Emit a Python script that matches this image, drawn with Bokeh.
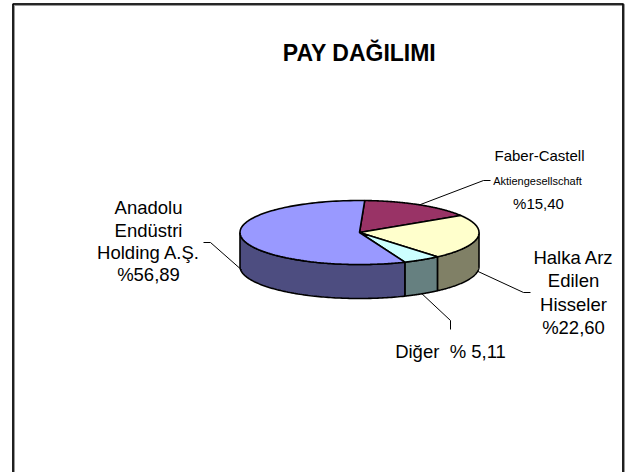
import numpy as np
from bokeh.plotting import figure
from bokeh.models import Range1d
from bokeh.embed import file_html
from bokeh.resources import INLINE
from bokeh.core.properties import value

# ---- data ----
title = "PAY DAĞILIMI"
categories = ["Faber-Castell Aktiengesellschaft", "Halka Arz Edilen Hisseler", "Diğer", "Anadolu Endüstri Holding A.Ş."]
shares = [15.40, 22.60, 5.11, 56.89]
share_labels = ["%15,40", "%22,60", "% 5,11", "%56,89"]
top_colors = ["#993366", "#FFFFCC", "#CCFFFF", "#9999FF"]
side_colors = ["#4D1A33", "#808066", "#668080", "#4D4D80"]

W, H = 629, 472
p = figure(width=W, height=H, x_range=Range1d(0, W), y_range=Range1d(H, 0),
           output_backend="svg", toolbar_location=None, min_border=0,
           x_axis_type=None, y_axis_type=None)
p.grid.visible = False
p.outline_line_color = None
p.background_fill_color = "white"
p.border_fill_color = "white"

FONT = value("Liberation Sans")

# frame
p.line([13, 13, 623, 623], [480, 4, 4, 480], line_color="#999999", line_width=3)
p.line([12.5, 12.5, 622.5, 622.5], [480, 3.5, 3.5, 480], line_color="black", line_width=1.6)

# ---- pie geometry ----
cx, cy, rx, ry, depth = 359, 232, 119.5, 32, 34
start_deg = 2.5

def pt(deg, dy=0.0):
    t = np.radians(deg)
    return cx + rx * np.sin(t), cy - ry * np.cos(t) + dy

angles = [start_deg]
for s in shares:
    angles.append(angles[-1] + s / sum(shares) * 360.0)

side_xs, side_ys, side_c = [], [], []
top_xs, top_ys = [], []
for i in range(len(shares)):
    a0, a1 = angles[i], angles[i + 1]
    arc = np.linspace(a0, a1, 120)
    xs, ys = pt(arc)
    top_xs.append([cx] + list(xs))
    top_ys.append([cy] + list(ys))
    s0, s1 = max(a0, 90.0), min(a1, 270.0)
    if s1 > s0:
        arc = np.linspace(s0, s1, 100)
        tx, ty = pt(arc)
        bx, by = pt(arc[::-1], depth)
        side_xs.append(list(tx) + list(bx))
        side_ys.append(list(ty) + list(by))
        side_c.append(side_colors[i])

p.patches(side_xs, side_ys, fill_color=side_c, line_color="black", line_width=1.6)
p.patches(top_xs, top_ys, fill_color=top_colors, line_color="black", line_width=1.6)

# ---- leader lines ----
mids = [(angles[i] + angles[i + 1]) / 2 for i in range(len(shares))]
fx, fy = pt(mids[0])
p.line([fx, 483, 490], [fy, 180, 180], line_color="black", line_width=1)
hx, hy = pt(mids[1], depth)
p.line([hx, 523, 530], [hy, 292, 292], line_color="black", line_width=1)
dx_, dy_ = pt(mids[2], depth)
p.line([dx_, 450, 450], [dy_, 320, 329], line_color="black", line_width=1)
ax, ay = pt(mids[3], depth - 2)
p.line([ax, 210, 203], [ay, 242, 242], line_color="black", line_width=1)

# ---- texts ----
p.text([359], [52], text=[title], text_font=FONT, text_font_style="bold",
       text_font_size="23px", text_align="center", text_baseline="middle", text_color="black")

lbl = dict(text_font=FONT, text_font_size="18.5px", text_align="center",
           text_baseline="middle", text_color="black")
mid = dict(text_font=FONT, text_font_size="15px", text_align="center",
           text_baseline="middle", text_color="black")

p.text([539], [155], text=["Faber-Castell"], **mid)
p.text([537], [180], text=["Aktiengesellschaft"], text_font=FONT, text_font_size="11px",
       text_align="center", text_baseline="middle", text_color="black")
p.text([538], [203], text=[share_labels[0]], **mid)

p.text([573] * 4, [257, 280, 304, 327], text=["Halka Arz", "Edilen", "Hisseler", share_labels[1]], **lbl)

p.text([450], [351], text=["Diğer\u00a0\u00a0" + share_labels[2]], **lbl)

p.text([148] * 4, [207, 230, 252, 274], text=["Anadolu", "Endüstri", "Holding A.Ş.", share_labels[3]], **lbl)

open("out.html", "w").write(file_html(p, INLINE))
